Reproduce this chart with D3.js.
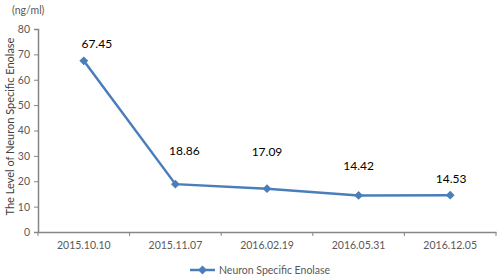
<!DOCTYPE html>
<html>
<head>
<meta charset="utf-8">
<script src="https://cdn.jsdelivr.net/npm/d3@7"></script>
<style>
  body { margin: 0; background: #fff; }
  text { font-family: Lato, "Open Sans", sans-serif; }
</style>
</head>
<body>
<svg id="chart" width="500" height="278"></svg>
<script>
// data
const dates = ["2015.10.10", "2015.11.07", "2016.02.19", "2016.05.31", "2016.12.05"];
const nse = [67.45, 18.86, 17.09, 14.42, 14.53];
const yTicks = [0, 10, 20, 30, 40, 50, 60, 70, 80];

// label nudges (px), labels were hand-placed in the original
const labelDx = [13, 9, 0, 0, 1];
const labelDy = [-13, -29, -33, -25, -12];

const svg = d3.select("#chart");
const margin = { left: 38, right: 4, top: 29, bottom: 46 };
const width = 500, height = 278;

const x = d3.scaleBand()
    .domain(dates)
    .range([margin.left, width - margin.right]);
const y = d3.scaleLinear()
    .domain([0, 80])
    .range([height - margin.bottom, margin.top]);

const axisColor = "#868686";
const blue = "#4a7ebb";

// y axis
const yAxis = svg.append("g")
    .attr("transform", `translate(${margin.left},0)`)
    .call(d3.axisLeft(y).tickValues(yTicks).tickSize(4).tickPadding(4));
yAxis.select(".domain").attr("stroke", axisColor).attr("stroke-width", 1.5);
yAxis.selectAll(".tick line").attr("stroke", axisColor);
yAxis.selectAll(".tick text").attr("fill", "#595959").style("font-size", "10.5px");

// x axis
const xAxis = svg.append("g")
    .attr("transform", `translate(0,${y(0)})`)
    .call(d3.axisBottom(x).tickSize(0).tickPadding(10));
xAxis.select(".domain").attr("stroke", axisColor).attr("stroke-width", 1.5);
xAxis.selectAll(".tick text").attr("fill", "#595959").style("font-size", "10.5px");

// band boundary ticks
const bounds = dates.map(d => x(d)).concat([x(dates[dates.length - 1]) + x.bandwidth()]);
xAxis.selectAll(".bound")
    .data(bounds)
    .enter().append("line")
    .attr("x1", d => d).attr("x2", d => d)
    .attr("y1", 0).attr("y2", 4)
    .attr("stroke", axisColor);

// line
const cx = d => x(d) + x.bandwidth() / 2;
const line = d3.line()
    .x((d, i) => cx(dates[i]))
    .y(d => y(d));

svg.append("path")
    .datum(nse)
    .attr("d", line)
    .attr("fill", "none")
    .attr("stroke", blue)
    .attr("stroke-width", 2.5);

const diamond = d3.symbol().type(d3.symbolDiamond2).size(50);
svg.append("g")
    .selectAll("path")
    .data(nse)
    .enter().append("path")
    .attr("d", diamond)
    .attr("transform", (d, i) => `translate(${cx(dates[i])},${y(d)})`)
    .attr("fill", blue);

// data labels
svg.append("g")
    .selectAll("text")
    .data(nse)
    .enter().append("text")
    .attr("x", (d, i) => cx(dates[i]) + labelDx[i])
    .attr("y", (d, i) => y(d) + labelDy[i])
    .attr("text-anchor", "middle")
    .style("font-size", "12px")
    .attr("fill", "#000")
    .text(d => d.toFixed(2));

// axis titles
svg.append("text")
    .attr("transform", `translate(14,${(y(0) + y(80)) / 2 - 4}) rotate(-90)`)
    .attr("text-anchor", "middle")
    .attr("fill", "#404040")
    .style("font-size", "11px")
    .text("The Level of Neuron Specific Enolase");

svg.append("text")
    .attr("x", 12)
    .attr("y", 14)
    .attr("fill", "#595959")
    .style("font-size", "10.5px")
    .text("(ng/ml)");

// legend
const lg = svg.append("g").attr("transform", "translate(190,270)");
lg.append("line")
    .attr("x1", 0).attr("x2", 25)
    .attr("stroke", blue).attr("stroke-width", 2.5);
lg.append("path")
    .attr("d", diamond)
    .attr("transform", "translate(12.5,0)")
    .attr("fill", blue);
lg.append("text")
    .attr("x", 29).attr("y", 4)
    .attr("fill", "#595959")
    .style("font-size", "10.5px")
    .text("Neuron Specific Enolase");
</script>
</body>
</html>
